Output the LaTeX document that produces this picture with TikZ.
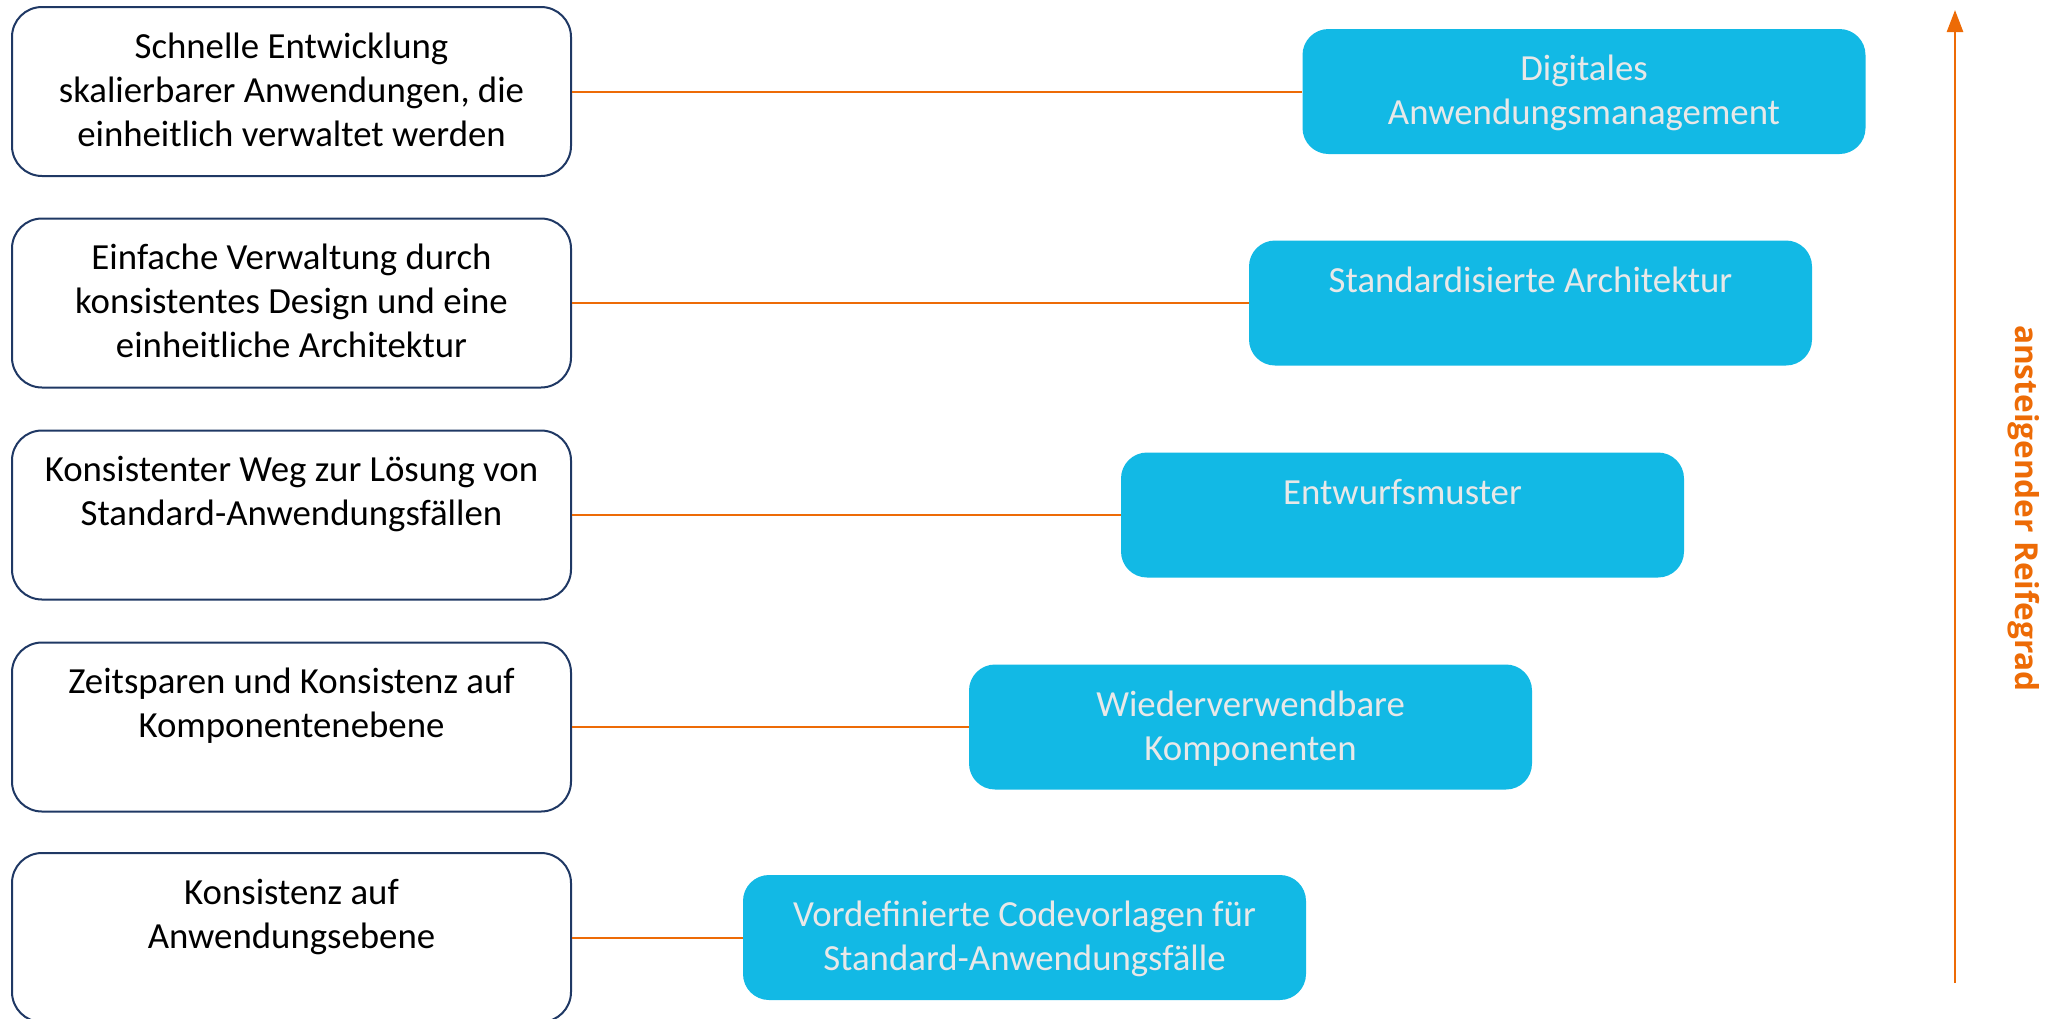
\documentclass[tikz,border=0pt]{standalone}
\usepackage{fontspec}
\setmainfont{Carlito}
\newfontfamily\labfont{Open Sans}
\usetikzlibrary{arrows.meta}
\definecolor{navy}{HTML}{1F3864}
\definecolor{skyb}{HTML}{12B9E5}
\definecolor{orng}{HTML}{ED6B06}
\definecolor{lgray}{HTML}{E8E8E8}
\newcommand{\mlines}[1]{{\setlength{\tabcolsep}{0pt}\renewcommand{\arraystretch}{1}\begin{tabular}[t]{c}#1\end{tabular}}}
\begin{document}
\begin{tikzpicture}[x=0.5pt,y=-0.5pt,
  lbox/.style={draw=navy, line width=1pt, rounded corners=15pt, fill=white,
     minimum width=279.5pt, minimum height=84.5pt, inner sep=0pt},
  bbox/.style={fill=skyb, rounded corners=13pt, draw=none,
     minimum width=281.5pt, minimum height=62.5pt, inner sep=0pt},
  ltext/.style={anchor=base, inner sep=0pt, text=black,
     font=\fontsize{18.4pt}{22pt}\selectfont},
  btext/.style={anchor=base, inner sep=0pt, text=lgray,
     font=\fontsize{18.4pt}{22pt}\selectfont},
  conn/.style={draw=orng, line width=1pt}]
\useasboundingbox (0,0) rectangle (2050,1018);
\clip (0,0) rectangle (2050,1018);

% left boxes
\node[lbox] (l1) at (291.5,91.5) {};
\node[lbox] (l2) at (291.5,303) {};
\node[lbox] (l3) at (291.5,515) {};
\node[lbox] (l4) at (291.5,727) {};
\node[lbox] (l5) at (291.5,937.5) {};

% blue boxes
\node[bbox] (b1) at (1584,91.5) {};
\node[bbox] (b2) at (1530.5,303) {};
\node[bbox] (b3) at (1402.5,515) {};
\node[bbox] (b4) at (1250.5,727) {};
\node[bbox] (b5) at (1024.5,937.5) {};

% connectors
\draw[conn] (l1.east) -- (b1.west);
\draw[conn] (l2.east) -- (b2.west);
\draw[conn] (l3.east) -- (b3.west);
\draw[conn] (l4.east) -- (b4.west);
\draw[conn] (l5.east) -- (b5.west);

% left texts
\node[ltext] (l1t) at ([yshift=-26pt]l1.north) {\mlines{Schnelle Entwicklung\\skalierbarer Anwendungen, die\\einheitlich verwaltet werden}};
\node[ltext] (l2t) at ([yshift=-26pt]l2.north) {\mlines{Einfache Verwaltung durch\\konsistentes Design und eine\\einheitliche Architektur}};
\node[ltext] (l3t) at ([yshift=-26pt]l3.north) {\mlines{Konsistenter Weg zur Lösung von\\Standard-Anwendungsfällen}};
\node[ltext] (l4t) at ([yshift=-26pt]l4.north) {\mlines{Zeitsparen und Konsistenz auf\\Komponentenebene}};
\node[ltext] (l5t) at ([yshift=-26pt]l5.north) {\mlines{Konsistenz auf\\Anwendungsebene}};

% blue texts
\node[btext] (b1t) at ([yshift=-26pt]b1.north) {\mlines{Digitales\\Anwendungsmanagement}};
\node[btext] (b2t) at ([yshift=-26pt]b2.north) {\mlines{Standardisierte Architektur}};
\node[btext] (b3t) at ([yshift=-26pt]b3.north) {\mlines{Entwurfsmuster}};
\node[btext] (b4t) at ([yshift=-26pt]b4.north) {\mlines{Wiederverwendbare\\Komponenten}};
\node[btext] (b5t) at ([yshift=-26pt]b5.north) {\mlines{Vordefinierte Codevorlagen für\\Standard-Anwendungsfälle}};

% maturity arrow
\coordinate (ab) at (1955,983);
\coordinate (at) at (1955,10);
\draw[orng, line width=1.3pt, -{Triangle[length=11pt,width=8pt]}] (ab) -- (at);
\node[rotate=-90, anchor=base, inner sep=0pt, text=orng,
  font=\labfont\bfseries\fontsize{15.8pt}{18pt}\selectfont] (lab) at (2015,508.5) {ansteigender Reifegrad};
\end{tikzpicture}
\end{document}
